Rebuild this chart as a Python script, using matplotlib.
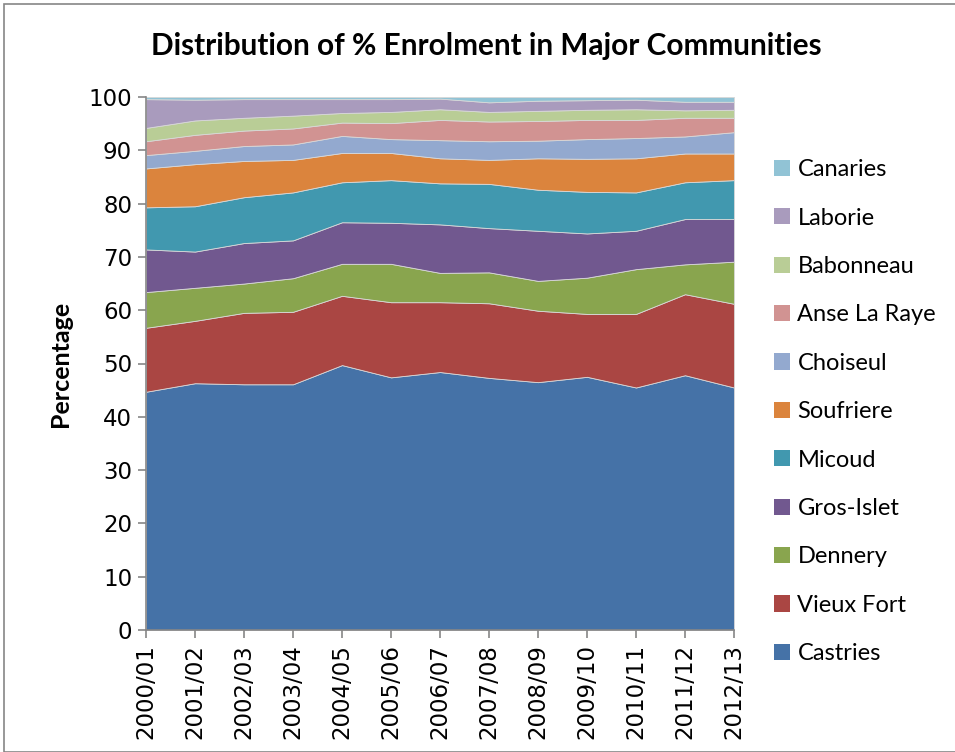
import matplotlib
matplotlib.use("Agg")
import matplotlib.pyplot as plt
from matplotlib.patches import Rectangle, Patch
import numpy as np

# School years on the x axis
years = ["2000/01", "2001/02", "2002/03", "2003/04", "2004/05", "2005/06", "2006/07",
         "2007/08", "2008/09", "2009/10", "2010/11", "2011/12", "2012/13"]

# % share of enrolment per community
castries = [44.7, 46.3, 46.1, 46.1, 49.7, 47.4, 48.4, 47.3, 46.5, 47.5, 45.5, 47.8, 45.5]
vieux_fort = [12.0, 11.7, 13.4, 13.6, 13.0, 14.1, 13.1, 14.0, 13.4, 11.8, 13.8, 15.2, 15.7]
dennery = [6.7, 6.2, 5.5, 6.3, 6.0, 7.2, 5.5, 5.8, 5.6, 6.8, 8.4, 5.6, 7.9]
gros_islet = [8.0, 6.8, 7.6, 7.1, 7.8, 7.7, 9.1, 8.3, 9.4, 8.3, 7.2, 8.5, 8.0]
micoud = [7.9, 8.5, 8.6, 9.0, 7.5, 8.0, 7.7, 8.3, 7.7, 7.8, 7.2, 6.9, 7.3]
soufriere = [7.3, 7.9, 6.8, 6.1, 5.5, 5.1, 4.7, 4.5, 5.9, 6.2, 6.4, 5.4, 5.0]
choiseul = [2.5, 2.5, 2.8, 2.9, 3.2, 2.6, 3.4, 3.5, 3.3, 3.7, 3.8, 3.2, 4.0]
anse_la_raye = [2.6, 3.0, 2.9, 3.0, 2.5, 3.0, 3.8, 3.7, 3.7, 3.6, 3.4, 3.5, 2.7]
babonneau = [2.5, 2.7, 2.4, 2.4, 1.8, 2.1, 2.0, 1.8, 1.9, 1.9, 2.0, 1.4, 1.5]
laborie = [5.4, 3.9, 3.5, 3.1, 2.6, 2.4, 2.0, 1.8, 1.9, 1.8, 1.8, 1.6, 1.5]
canaries = [0.4, 0.5, 0.4, 0.4, 0.4, 0.4, 0.3, 1.0, 0.7, 0.6, 0.5, 0.9, 0.9]

names = ["Castries", "Vieux Fort", "Dennery", "Gros-Islet", "Micoud", "Soufriere",
         "Choiseul", "Anse La Raye", "Babonneau", "Laborie", "Canaries"]
colors = ["#4572A7", "#AA4643", "#89A54E", "#71588F", "#4198AF", "#DB843D",
          "#93A9CF", "#D19392", "#B9CD96", "#A99BBD", "#91C3D5"]
series = [castries, vieux_fort, dennery, gros_islet, micoud, soufriere,
          choiseul, anse_la_raye, babonneau, laborie, canaries]

text_font = ["Lato", "DejaVu Sans"]

fig = plt.figure(figsize=(9.55, 7.52), dpi=100)
ax = fig.add_axes([146 / 955, 1 - 630 / 752, (734 - 146) / 955, (630 - 97) / 752])

# Outer chart frame
fig.patches.append(Rectangle((4 / 955, 0), 1, 1 - 4 / 752, transform=fig.transFigure,
                             fill=False, edgecolor="#868686", linewidth=1.2))

x = np.arange(len(years))
ax.stackplot(x, *series, colors=colors, edgecolor="#d8d8d8", linewidth=0.6)

ax.set_xlim(0, len(years) - 1)
ax.set_ylim(0, 100)
ax.set_yticks(range(0, 101, 10))
ax.set_xticks(x)
ax.set_xticklabels(years, rotation=90)
ax.tick_params(axis="both", labelsize=16.5, color="#868686", length=6, width=1.2)
ax.tick_params(axis="y", pad=4)
ax.tick_params(axis="x", pad=4)

for side in ["top", "right"]:
    ax.spines[side].set_visible(False)
for side in ["left", "bottom"]:
    ax.spines[side].set_color("#868686")
    ax.spines[side].set_linewidth(1.2)

ax.set_ylabel("Percentage", fontsize=18, fontweight="bold", family=text_font, labelpad=12)
fig.text(486 / 955, 1 - 46 / 752, "Distribution of % Enrolment in Major Communities",
         ha="center", va="center", fontsize=21.4, fontweight="bold", family=text_font)

handles = [Patch(facecolor=c) for c in colors][::-1]
leg = fig.legend(handles, names[::-1], loc="upper left", bbox_to_anchor=(753 / 955, 1 - 138 / 752),
                 frameon=False, prop={"family": text_font, "size": 17},
                 handlelength=0.68, handleheight=0.68, handletextpad=0.3, labelspacing=1.16)

fig.savefig("out.png", dpi=100)
